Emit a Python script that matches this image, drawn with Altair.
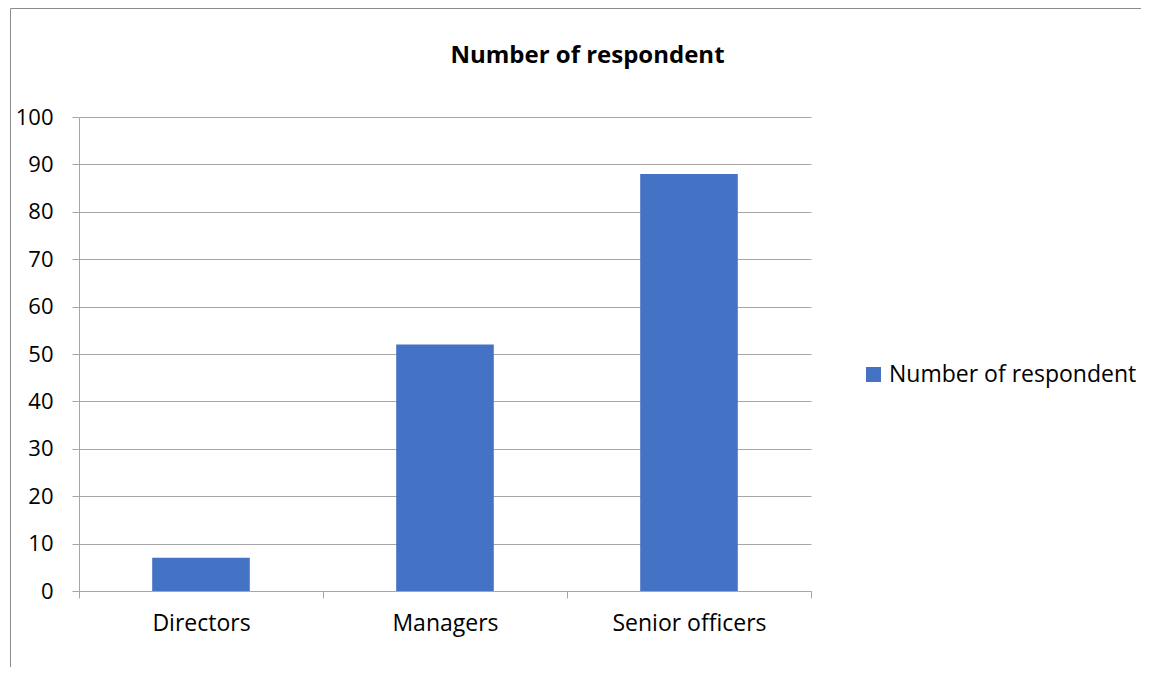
import altair as alt
import pandas as pd

categories = ["Directors", "Managers", "Senior officers"]
values = [7, 52, 88]
series_name = "Number of respondent"
y_ticks = list(range(0, 101, 10))

df = pd.DataFrame({
    "category": categories,
    "value": values,
    "series": [series_name] * len(categories),
})

FONT = "Open Sans"
GRID = "#a6a6a6"

border = alt.Chart(pd.DataFrame({"k": [0]})).mark_rect(
    filled=False, stroke="#8c8c8c", strokeWidth=1
).encode(
    x=alt.value(-68.5), x2=alt.value(1200),
    y=alt.value(-108.5), y2=alt.value(700)
)

title = alt.Chart(pd.DataFrame({"t": [series_name]})).mark_text(
    font=FONT, fontSize=24, fontWeight="bold", color="#000000",
    align="center", baseline="alphabetic"
).encode(
    text="t:N", x=alt.value(508.5), y=alt.value(-54)
)

bars = alt.Chart(df).mark_bar(
    width=alt.RelativeBandSize(0.4)
).encode(
    x=alt.X("category:N", sort=categories,
            scale=alt.Scale(paddingInner=0, paddingOuter=0),
            axis=alt.Axis(title=None, labelAngle=0, tickBand="extent",
                          grid=False, tickSize=7, tickColor=GRID,
                          domainColor=GRID, labelFont=FONT, labelFontSize=23,
                          labelColor="#000000", labelPadding=14)),
    y=alt.Y("value:Q", scale=alt.Scale(domain=[0, 100], nice=False),
            axis=alt.Axis(title=None, values=y_ticks, grid=True, gridColor=GRID,
                          tickSize=7, tickColor=GRID, domainColor=GRID,
                          labelFont=FONT, labelFontSize=22, labelColor="#000000",
                          labelPadding=19)),
    color=alt.Color("series:N",
                    scale=alt.Scale(range=["#4472C4"]),
                    legend=alt.Legend(title=None, orient="none", legendX=783, legendY=246,
                                      symbolType="square", symbolSize=225,
                                      symbolStrokeWidth=0, labelFont=FONT,
                                      labelFontSize=23, labelColor="#000000",
                                      labelOffset=4, labelLimit=0)),
)

chart = alt.layer(border, title, bars).properties(
    width=732,
    height=474,
    autosize=alt.AutoSizeParams(type="none"),
    padding={"left": 71, "top": 109, "right": 330, "bottom": 76},
).configure_view(stroke=None)

chart.save("out.html", embed_options={"renderer": "svg", "actions": False})
